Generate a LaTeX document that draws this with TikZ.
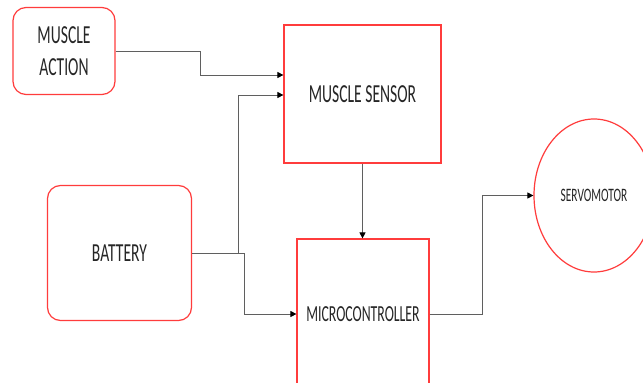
\documentclass[tikz,border=0pt]{standalone}
\usepackage{fontspec}
\setmainfont{Carlito}
\newfontfamily\narrowfont[FakeStretch=0.6]{Carlito}
\usetikzlibrary{arrows.meta,shapes.geometric}

\definecolor{boxred}{RGB}{255,60,60}
\definecolor{wiregray}{RGB}{95,95,95}

\begin{document}
\begin{tikzpicture}[x=1pt, y=-1pt, >={Triangle[length=6pt, width=6pt, color=black]},
	block/.style={draw=boxred, line width=1.2pt, fill=white, text=black!85, inner sep=0pt, align=center, font=\narrowfont\fontsize{26}{31.7}\selectfont},
	soft/.style={block, rounded corners=13pt},
	motor/.style={block, ellipse, font=\narrowfont\fontsize{19}{22}\selectfont},
	wire/.style={draw=wiregray, line width=0.8pt}]
	\clip (0,0) rectangle (643,383);
	\fill [white] (0,0) rectangle (643,383);

	% Nodes {action, sensor, battery, micro, servo}
	\node [soft, minimum width=102pt, minimum height=87pt]	(action)	at (64,51)		{MUSCLE\\ACTION};
	\node [block, minimum width=157pt, minimum height=138pt]	(sensor)	at (362.5,94)	{MUSCLE SENSOR};
	\node [soft, minimum width=144pt, minimum height=135pt]	(battery)	at (119.5,253)	{BATTERY};
	\node [block, minimum width=132pt, minimum height=150pt, font=\narrowfont\fontsize{23}{27}\selectfont]	(micro)	at (363,314)	{MICROCONTROLLER};
	\node [motor, minimum width=120pt, minimum height=153pt]	(servo)		at (594,195.5)	{SERVOMOTOR};

	% Paths
	\draw [wire, ->]	(action.east) -- ++(85,0) |- ([yshift=19pt]sensor.west);
	\draw [wire, ->]	(battery.east) -- ++(46.5,0) |- ([yshift=-1pt]sensor.west);
	\draw [wire, ->]	(battery.east) -- ++(52.5,0) |- (micro.west);
	\draw [wire, ->]	(sensor.south) -- (sensor.south |- micro.north);
	\draw [wire, ->]	(micro.east) -- ++(53,0) |- (servo.west);
\end{tikzpicture}
\end{document}
